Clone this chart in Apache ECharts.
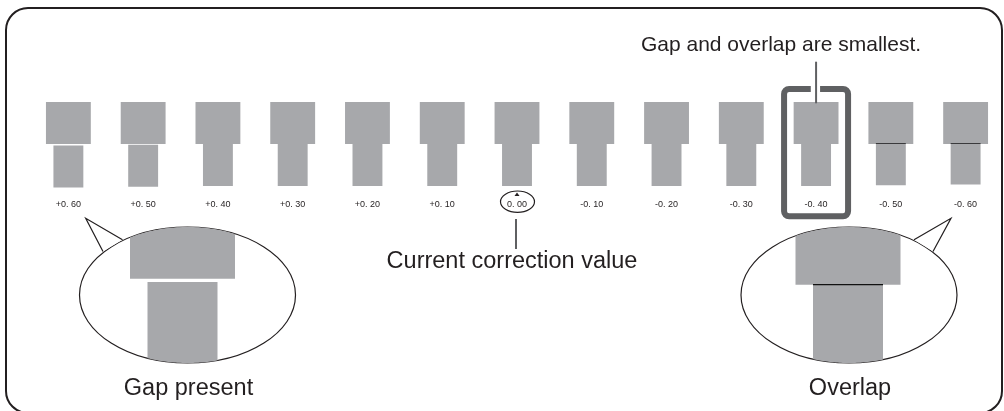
<!DOCTYPE html>
<html>
<head>
<meta charset="utf-8">
<script src="https://cdn.jsdelivr.net/npm/echarts@6/dist/echarts.min.js"></script>
<style>
  html, body { margin: 0; padding: 0; background: #fff; }
  #chart { width: 1004px; height: 411px; }
</style>
</head>
<body>
<div id="chart"></div>
<script>
// correction values printed under each test pattern
const labels = ['+0. 60', '+0. 50', '+0. 40', '+0. 30', '+0. 20', '+0. 10', '0. 00',
  '-0. 10', '-0. 20', '-0. 30', '-0. 40', '-0. 50', '-0. 60'];
const corrections = [0.6, 0.5, 0.4, 0.3, 0.2, 0.1, 0, -0.1, -0.2, -0.3, -0.4, -0.5, -0.6];
const currentValue = 0;     // circled
const bestValue = -0.4;     // boxed

const GRAY = '#a7a8ab';
const INK = '#231f20';
const DARK = '#5f6062';
const FONT = '"Liberation Sans", Arial, sans-serif';

// offset of the lower block: gap (+) or overlap (-), in px
function shiftPx(v) {
  const d = Math.max(0, Math.abs(v) - 0.4);
  return Math.sign(v) * d * 7;
}

const chart = echarts.init(document.getElementById('chart'));

function renderItem(params, api) {
  const i = api.value(0);
  const v = api.value(1);
  const band = api.size([1, 0])[0];
  const cx = api.coord([i, 0])[0];
  const y = t => api.coord([i, t])[1];
  const topW = band * 0.6, botW = band * 0.4;
  const topY0 = y(102), topY1 = y(144);
  const sh = shiftPx(v);
  const botY0 = topY1 + sh, botY1 = y(186) + sh;

  const kids = [
    { type: 'rect', shape: { x: cx - botW / 2, y: botY0, width: botW, height: botY1 - botY0 }, style: { fill: GRAY } },
    { type: 'rect', shape: { x: cx - topW / 2, y: topY0, width: topW, height: topY1 - topY0 }, style: { fill: GRAY } }
  ];
  if (sh < 0) {
    kids.push({ type: 'line', shape: { x1: cx - botW / 2, y1: topY1 - 0.5, x2: cx + botW / 2, y2: topY1 - 0.5 },
      style: { stroke: '#3a3a3c', lineWidth: 1 } });
  }
  kids.push({ type: 'text', style: { text: labels[i], x: cx, y: y(204.5), fill: INK,
    font: '9px ' + FONT, textAlign: 'center', textVerticalAlign: 'middle' } });

  if (v === currentValue) {
    kids.push({ type: 'ellipse', shape: { cx: cx + 0.5, cy: y(201.7), rx: 17, ry: 10.7 },
      style: { fill: 'none', stroke: INK, lineWidth: 1.2 } });
    kids.push({ type: 'polygon', shape: { points: [[cx, y(192.5)], [cx - 2.5, y(196)], [cx + 2.5, y(196)]] },
      style: { fill: INK } });
    kids.push({ type: 'line', shape: { x1: cx - 1, y1: y(219), x2: cx - 1, y2: y(249) },
      style: { stroke: DARK, lineWidth: 2 } });
  }
  if (v === bestValue) {
    kids.push({ type: 'rect', shape: { x: cx - 32, y: y(89), width: 64, height: y(216.3) - y(89), r: 5 },
      style: { fill: 'none', stroke: DARK, lineWidth: 6 } });
    kids.push({ type: 'rect', shape: { x: cx - 5.3, y: y(84), width: 9.3, height: 10 }, style: { fill: '#fff' } });
    kids.push({ type: 'line', shape: { x1: cx, y1: y(61.7), x2: cx, y2: y(103.3) },
      style: { stroke: DARK, lineWidth: 2 } });
  }
  return { type: 'group', children: kids };
}

// rectangle clipped to an ellipse, as a polygon
function clipRect(x0, x1, y0, y1, e) {
  const n = 40, top = [], bot = [];
  for (let k = 0; k <= n; k++) {
    const x = x0 + (x1 - x0) * k / n;
    const t = (x - e.cx) / e.rx;
    const h = e.ry * Math.sqrt(Math.max(0, 1 - t * t));
    top.push([x, Math.max(y0, e.cy - h)]);
    bot.unshift([x, Math.min(y1, e.cy + h)]);
  }
  return top.concat(bot);
}

// magnified view of one pattern inside a speech bubble
function bubble(value, e, blockX, joinY, tip, base1, base2, caption) {
  const s = 105 / 45;
  const topW = 45 * s, botW = 30 * s;
  const sh = shiftPx(value) * s;
  const els = [
    { type: 'ellipse', shape: { cx: e.cx, cy: e.cy, rx: e.rx, ry: e.ry }, style: { fill: '#fff', stroke: INK, lineWidth: 1.2 } },
    { type: 'polygon', shape: { points: clipRect(blockX - botW / 2, blockX + botW / 2, joinY + sh, 999, e) }, style: { fill: GRAY } },
    { type: 'polygon', shape: { points: clipRect(blockX - topW / 2, blockX + topW / 2, -999, joinY, e) }, style: { fill: GRAY } }
  ];
  if (sh < 0) {
    els.push({ type: 'line', shape: { x1: blockX - botW / 2, y1: joinY, x2: blockX + botW / 2, y2: joinY },
      style: { stroke: '#111', lineWidth: 1.2 } });
  }
  els.push({ type: 'polygon', shape: { points: [tip, base1, base2] }, style: { fill: '#fff' } });
  els.push({ type: 'polyline', shape: { points: [base1, tip, base2] }, style: { stroke: INK, lineWidth: 1.2, fill: 'none' } });
  els.push({ type: 'text', style: { text: caption, x: e.cx + 1, y: 388.5, fill: INK,
    font: '23.5px ' + FONT, textAlign: 'center', textVerticalAlign: 'middle' } });
  return els;
}

const leftBubble = bubble(corrections[0], { cx: 187.5, cy: 295, rx: 108, ry: 68 }, 182.5, 278.7,
  [85.7, 218.3], [122.5, 239.8], [103, 251.5], 'Gap present');
const rightBubble = bubble(corrections[corrections.length - 1], { cx: 849, cy: 295, rx: 108, ry: 68 }, 848, 284.7,
  [951, 218.3], [914, 239.8], [933, 251.5], 'Overlap');

const option = {
  animation: false,
  grid: { left: 31, right: 1, top: 0, bottom: 0 },
  xAxis: { type: 'category', data: labels, show: false },
  yAxis: { type: 'value', min: 0, max: 411, inverse: true, show: false },
  graphic: [
    { type: 'rect', shape: { x: 6, y: 8, width: 996, height: 405, r: 22 },
      style: { fill: 'none', stroke: INK, lineWidth: 2 } },
    { type: 'text', style: { text: 'Gap and overlap are smallest.', x: 781, y: 45.5, fill: INK,
      font: '21px ' + FONT, textAlign: 'center', textVerticalAlign: 'middle' } },
    { type: 'text', style: { text: 'Current correction value', x: 512, y: 262, fill: INK,
      font: '23.5px ' + FONT, textAlign: 'center', textVerticalAlign: 'middle' } }
  ].concat(leftBubble, rightBubble),
  series: [{
    type: 'custom',
    clip: false,
    data: corrections.map((v, i) => [i, v]),
    encode: { x: 0, y: 1 },
    renderItem: renderItem
  }]
};

chart.setOption(option);
</script>
</body>
</html>
